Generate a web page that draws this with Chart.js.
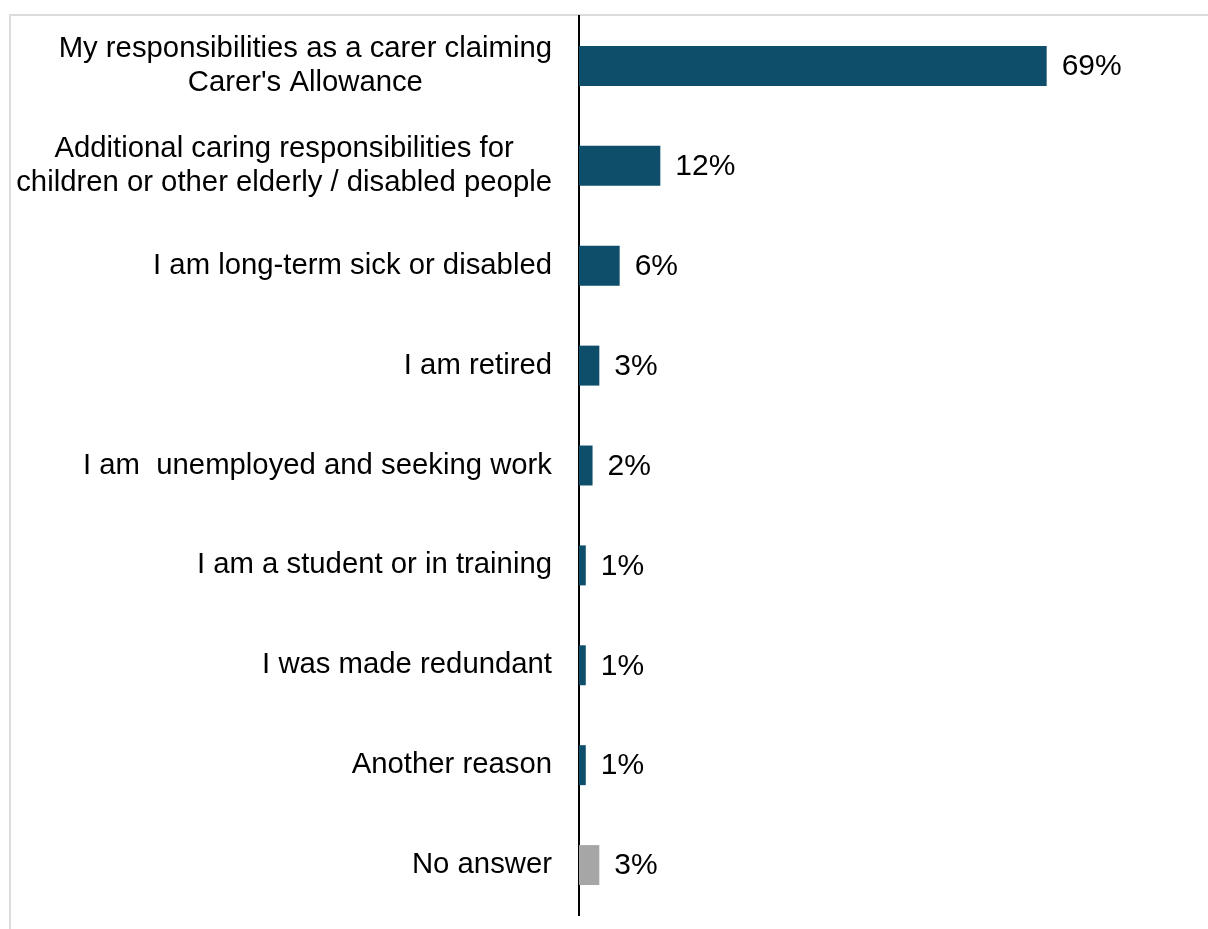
<!DOCTYPE html>
<html>
<head>
<meta charset="utf-8">
<script src="https://cdn.jsdelivr.net/npm/chart.js@4/dist/chart.umd.min.js"></script>
<style>
  html, body { margin: 0; padding: 0; background: #fff; }
  #frame {
    position: absolute; left: 9px; top: 14px; width: 1400px; height: 1100px;
    border-top: 2px solid #dcdcdc; border-left: 2px solid #dcdcdc;
  }
  #wrap { position: absolute; left: 0; top: 0; width: 1208px; height: 929px; }
</style>
</head>
<body>
<div id="frame"></div>
<div id="wrap"><canvas id="reasonChart"></canvas></div>
<script>
const reasons = [
    ['My responsibilities as a carer claiming', "Carer's Allowance"],
    ['Additional caring responsibilities for', 'children or other elderly / disabled people'],
    'I am long-term sick or disabled',
    'I am retired',
    'I am  unemployed and seeking work',
    'I am a student or in training',
    'I was made redundant',
    'Another reason',
    'No answer'
];
const shares = [69, 12, 6, 3, 2, 1, 1, 1, 3];
const barColours = ['#0f4e6b', '#0f4e6b', '#0f4e6b', '#0f4e6b', '#0f4e6b', '#0f4e6b', '#0f4e6b', '#0f4e6b', '#a6a6a6'];

const FONT = '"Liberation Sans", Arial, sans-serif';

// category names: block right-aligned to the axis, lines centred within the block
const categoryLabels = {
    id: 'categoryLabels',
    afterDraw(chart) {
        const ctx = chart.ctx;
        const yScale = chart.scales.y;
        const right = chart.chartArea.left - 27;
        const lineH = 34;
        ctx.save();
        ctx.font = '29.3px ' + FONT;
        ctx.fillStyle = '#000';
        ctx.textAlign = 'center';
        ctx.textBaseline = 'middle';
        reasons.forEach((label, i) => {
            const lines = Array.isArray(label) ? label : [label];
            const blockW = Math.max(...lines.map(l => ctx.measureText(l).width));
            const cx = right - blockW / 2;
            const y0 = yScale.getPixelForTick(i) - (lines.length - 1) * lineH / 2;
            lines.forEach((l, j) => ctx.fillText(l, cx, y0 + j * lineH));
        });
        ctx.restore();
    }
};

// prints "NN%" just past the end of each bar
const valueLabels = {
    id: 'valueLabels',
    afterDatasetsDraw(chart) {
        const ctx = chart.ctx;
        const meta = chart.getDatasetMeta(0);
        ctx.save();
        ctx.font = '30px ' + FONT;
        ctx.fillStyle = '#000';
        ctx.textAlign = 'left';
        ctx.textBaseline = 'middle';
        meta.data.forEach((bar, i) => {
            ctx.fillText(shares[i] + '%', bar.x + 15, bar.y + 1);
        });
        ctx.restore();
    }
};

new Chart(document.getElementById('reasonChart'), {
    type: 'bar',
    data: {
        labels: reasons,
        datasets: [{
            data: shares,
            backgroundColor: barColours,
            borderWidth: 0,
            barPercentage: 0.4,
            categoryPercentage: 1
        }]
    },
    plugins: [valueLabels, categoryLabels],
    options: {
        indexAxis: 'y',
        responsive: true,
        maintainAspectRatio: false,
        animation: false,
        layout: { padding: { top: 16, bottom: 14, left: 0, right: 19 } },
        plugins: {
            legend: { display: false },
            tooltip: { enabled: false }
        },
        scales: {
            x: {
                display: false,
                min: 0,
                max: 90
            },
            y: {
                afterFit(scale) {
                    scale.width = 579;
                    scale.paddingTop = 0;
                    scale.paddingBottom = 0;
                },
                grid: { display: false, drawTicks: false },
                border: { display: true, color: '#000', width: 2 },
                ticks: { display: false }
            }
        }
    }
});
</script>
</body>
</html>
